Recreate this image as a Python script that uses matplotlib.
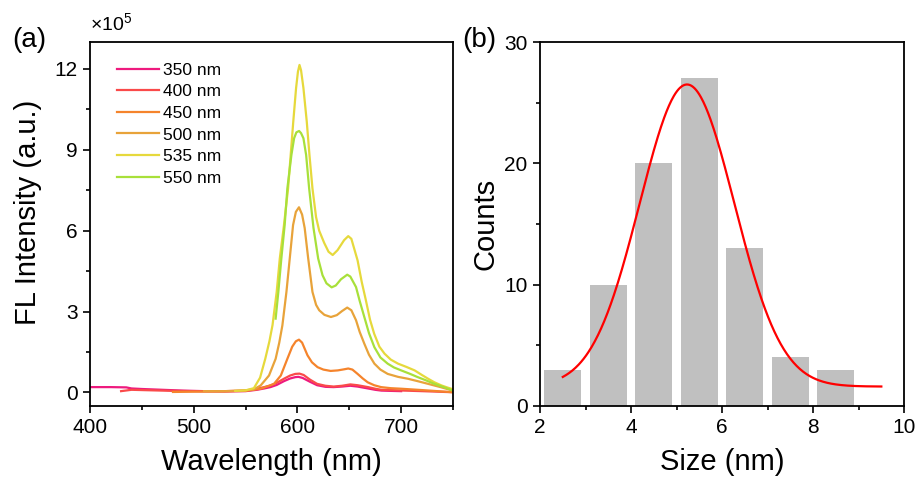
import numpy as np
import matplotlib
matplotlib.use("Agg")
import matplotlib.pyplot as plt
from matplotlib.ticker import MultipleLocator

plt.rcParams['font.family'] = ['Liberation Sans', 'DejaVu Sans']
plt.rcParams['mathtext.fontset'] = 'custom'
plt.rcParams['mathtext.rm'] = 'Liberation Sans'

# ---------------- data: panel (a) FL spectra (intensity in 1e5 a.u.) ----------------
labels = ['350 nm', '400 nm', '450 nm', '500 nm', '535 nm', '550 nm']
colors = ['#EE1A7E', '#FA4A4A', '#F5842C', '#E8A33A', '#E6D93C', '#A8E03A']

wl_350 = [400, 410, 420, 435, 440, 450, 470, 490, 510, 530, 550, 561, 568, 574, 580, 587, 593, 598, 601,
          605, 612, 619, 627, 635, 643, 651, 658, 668, 675, 681, 690, 700]
fl_350 = [0.20, 0.20, 0.20, 0.19, 0.15, 0.13, 0.10, 0.07, 0.05, 0.04, 0.05, 0.10, 0.15, 0.20, 0.28, 0.42, 0.52, 0.57, 0.58,
          0.54, 0.40, 0.27, 0.21, 0.20, 0.22, 0.25, 0.22, 0.15, 0.10, 0.07, 0.06, 0.05]

wl_400 = [430, 440, 460, 480, 500, 530, 550, 561, 568, 574, 580, 587, 593, 598, 602, 606, 612, 619, 627,
          635, 643, 651, 658, 668, 675, 681, 690, 703, 720, 735, 750]
fl_400 = [0.05, 0.10, 0.08, 0.06, 0.05, 0.05, 0.07, 0.14, 0.20, 0.26, 0.36, 0.51, 0.63, 0.69, 0.70, 0.65, 0.48, 0.32, 0.25,
          0.22, 0.25, 0.30, 0.27, 0.20, 0.14, 0.10, 0.09, 0.07, 0.05, 0.03, 0.01]

wl_450 = [480, 500, 530, 550, 564.5, 572, 577.4, 584, 590.3, 595, 598.5, 601.5, 604.5, 609.7, 614, 619.4, 625,
          632, 639, 645, 649, 653, 658, 663, 667.7, 674, 680.6, 690, 700, 720, 735, 750]
fl_450 = [0.02, 0.03, 0.04, 0.06, 0.14, 0.24, 0.32, 0.63, 1.25, 1.70, 1.90, 1.96, 1.85, 1.38, 1.12, 0.94, 0.85,
          0.80, 0.82, 0.86, 0.89, 0.85, 0.69, 0.52, 0.38, 0.27, 0.20, 0.16, 0.14, 0.09, 0.05, 0.01]

wl_500 = [510, 530, 550, 558, 564.5, 572.6, 579, 582.5, 585.5, 589.4, 592.6, 595.8, 598.5, 601.5, 604.5, 607,
          610.3, 614.5, 618, 621, 626, 632.3, 638, 643, 648, 652, 656.5, 660, 664.5, 669, 674.2, 680, 687, 697,
          706.5, 716, 726, 738, 750]
fl_500 = [0.05, 0.05, 0.08, 0.12, 0.26, 0.63, 1.25, 1.85, 2.49, 3.73, 4.97, 6.21, 6.70, 6.87, 6.60, 6.10,
          5.00, 3.73, 3.25, 3.05, 2.88, 2.80, 2.87, 3.02, 3.15, 3.05, 2.68, 2.25, 1.81, 1.40, 1.07, 0.85, 0.69, 0.58,
          0.51, 0.42, 0.32, 0.20, 0.07]

wl_535 = [540, 550, 558, 564, 569, 573, 576, 580, 583, 587, 591, 593.5, 596, 598.7, 600.5, 602, 603.5, 605.8,
          609, 611.6, 614.5, 618, 621, 625.8, 630, 634, 638.7, 645, 649, 652, 658, 662, 666, 670, 674, 679, 684,
          690, 697, 705, 713, 720, 726, 732, 739, 745, 750]
fl_535 = [0.06, 0.08, 0.16, 0.55, 1.25, 1.90, 2.50, 3.73, 4.97, 6.20, 7.57, 8.81, 10.05, 11.29, 11.90, 12.15, 11.95, 11.29,
          10.05, 8.81, 7.57, 6.50, 6.00, 5.55, 5.22, 5.10, 5.28, 5.65, 5.80, 5.70, 4.90, 4.10, 3.42, 2.70, 2.18, 1.70, 1.44,
          1.22, 1.07, 0.95, 0.82, 0.65, 0.51, 0.38, 0.26, 0.18, 0.12]

wl_550 = [579, 581.6, 584.5, 587.7, 590.3, 594.2, 596.8, 599, 601.6, 603.5, 605.8, 608.4, 611.3, 615.5, 620,
          624.2, 628, 633, 637, 642, 648, 651, 656.5, 660, 664.5, 669, 674.2, 680, 687, 693, 700, 708, 716, 724,
          732, 741, 750]
fl_550 = [2.74, 3.73, 4.97, 6.21, 7.57, 8.81, 9.43, 9.65, 9.70, 9.62, 9.43, 8.81, 7.57, 6.10, 4.97,
          4.35, 4.05, 3.90, 3.97, 4.20, 4.37, 4.30, 3.91, 3.40, 2.80, 2.20, 1.68, 1.30, 1.07, 0.93, 0.82, 0.70, 0.57, 0.45,
          0.32, 0.20, 0.07]

wavelengths = [wl_350, wl_400, wl_450, wl_500, wl_535, wl_550]
intensities = [fl_350, fl_400, fl_450, fl_500, fl_535, fl_550]

# ---------------- data: panel (b) size histogram ----------------
size_centers = [2.5, 3.5, 4.5, 5.5, 6.5, 7.5, 8.5]
size_counts = [3, 10, 20, 27, 13, 4, 3]
# Gaussian fit parameters
fit_y0, fit_A, fit_xc, fit_w = 1.6, 24.9, 5.23, 1.04
fit_range = (2.5, 9.5)

# ---------------- figure ----------------
fig = plt.figure(figsize=(9.2, 4.84), dpi=100)
axA = fig.add_axes([0.0978, 0.1612, 0.3946, 0.7520])
axB = fig.add_axes([0.5870, 0.1612, 0.3957, 0.7520])

for wl, fl, c, lab in zip(wavelengths, intensities, colors, labels):
    axA.plot(wl, fl, color=c, lw=1.6, label=lab, solid_joinstyle='round')

axA.set_xlim(400, 750)
axA.set_ylim(-0.5, 13.0)
axA.xaxis.set_major_locator(MultipleLocator(100))
axA.xaxis.set_minor_locator(MultipleLocator(50))
axA.yaxis.set_major_locator(MultipleLocator(3))
axA.yaxis.set_minor_locator(MultipleLocator(1.5))
axA.set_xlabel('Wavelength (nm)', fontsize=21)
axA.set_ylabel('FL Intensity (a.u.)', fontsize=21)
axA.xaxis.set_label_coords(0.5, -0.115)
axA.yaxis.set_label_coords(-0.133, 0.533)
leg = axA.legend(loc='upper left', bbox_to_anchor=(0.047, 0.972), frameon=False, fontsize=12.5,
                 handlelength=2.4, handletextpad=0.2, labelspacing=0.37, borderaxespad=0.2)
fig.text(0.0978, 0.928, r'$\times10^{5}$', fontsize=14, ha='left', va='bottom')
fig.text(0.013, 0.918, '(a)', fontsize=20, ha='left', va='center')

axB.bar(size_centers, size_counts, width=0.82, color='#C0C0C0', edgecolor='none', zorder=2)
xf = np.linspace(fit_range[0], fit_range[1], 400)
yf = fit_y0 + fit_A * np.exp(-(xf - fit_xc) ** 2 / (2 * fit_w ** 2))
axB.plot(xf, yf, color='#FF0000', lw=1.6, zorder=3)
axB.set_xlim(2, 10)
axB.set_ylim(0, 30)
axB.xaxis.set_major_locator(MultipleLocator(2))
axB.xaxis.set_minor_locator(MultipleLocator(1))
axB.yaxis.set_major_locator(MultipleLocator(10))
axB.yaxis.set_minor_locator(MultipleLocator(5))
axB.set_xlabel('Size (nm)', fontsize=21)
axB.set_ylabel('Counts', fontsize=21)
axB.xaxis.set_label_coords(0.5, -0.115)
axB.yaxis.set_label_coords(-0.11, 0.5)
fig.text(0.502, 0.918, '(b)', fontsize=20, ha='left', va='center')

for ax in (axA, axB):
    for s in ax.spines.values():
        s.set_linewidth(1.3)
    ax.tick_params(which='both', direction='out', top=False, right=False, width=1.2, labelsize=15)
    ax.tick_params(which='major', length=5, pad=4)
    ax.tick_params(which='minor', length=3)

fig.savefig('out.png', dpi=100)
